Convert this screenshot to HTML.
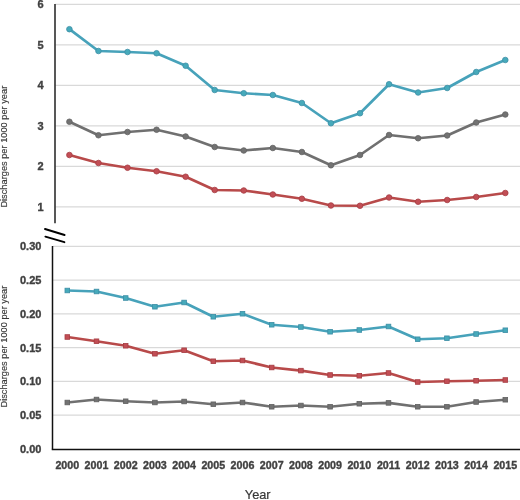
<!DOCTYPE html><html><head><meta charset="utf-8"><style>html,body{margin:0;padding:0;background:#fff;width:520px;height:500px;overflow:hidden}svg{display:block;will-change:transform}text{font-family:"Liberation Sans",sans-serif}</style></head><body>
<svg width="520" height="500" viewBox="0 0 520 500">
<line x1="55" y1="4.4" x2="520" y2="4.4" stroke="#D9D9D9" stroke-width="1.3"/>
<line x1="55" y1="44.9" x2="520" y2="44.9" stroke="#D9D9D9" stroke-width="1.3"/>
<line x1="55" y1="85.4" x2="520" y2="85.4" stroke="#D9D9D9" stroke-width="1.3"/>
<line x1="55" y1="125.9" x2="520" y2="125.9" stroke="#D9D9D9" stroke-width="1.3"/>
<line x1="55" y1="166.4" x2="520" y2="166.4" stroke="#D9D9D9" stroke-width="1.3"/>
<line x1="55" y1="206.9" x2="520" y2="206.9" stroke="#D9D9D9" stroke-width="1.3"/>
<line x1="53" y1="246.3" x2="520" y2="246.3" stroke="#D9D9D9" stroke-width="1.3"/>
<line x1="53" y1="280.08" x2="520" y2="280.08" stroke="#D9D9D9" stroke-width="1.3"/>
<line x1="53" y1="313.86" x2="520" y2="313.86" stroke="#D9D9D9" stroke-width="1.3"/>
<line x1="53" y1="347.64" x2="520" y2="347.64" stroke="#D9D9D9" stroke-width="1.3"/>
<line x1="53" y1="381.42" x2="520" y2="381.42" stroke="#D9D9D9" stroke-width="1.3"/>
<line x1="53" y1="415.2" x2="520" y2="415.2" stroke="#D9D9D9" stroke-width="1.3"/>
<line x1="55" y1="4" x2="55" y2="223.3" stroke="#3A3A3A" stroke-width="1.7"/>
<line x1="52.5" y1="246" x2="52.5" y2="449.4" stroke="#111" stroke-width="1.5"/>
<line x1="51.75" y1="449.4" x2="520" y2="449.4" stroke="#111" stroke-width="1.5"/>
<line x1="45" y1="229" x2="64.6" y2="235" stroke="#000" stroke-width="1.9" stroke-linecap="round"/>
<line x1="45.4" y1="236.6" x2="64.4" y2="242.2" stroke="#000" stroke-width="1.9" stroke-linecap="round"/>
<polyline points="69.4,29.2 98.46,51 127.52,52 156.58,53.25 185.64,65.75 214.7,90 243.76,93.25 272.82,95 301.88,103 330.94,123.25 360,113.25 389.06,84.25 418.12,92.5 447.18,88 476.24,72 505.3,60" fill="none" stroke="#47A2BA" stroke-width="2.7" stroke-linejoin="round"/>
<circle cx="69.4" cy="29.2" r="2.8000000000000003" fill="#46AABB" stroke="#3D8EA6" stroke-width="0.8"/>
<circle cx="98.46" cy="51" r="2.8000000000000003" fill="#46AABB" stroke="#3D8EA6" stroke-width="0.8"/>
<circle cx="127.52" cy="52" r="2.8000000000000003" fill="#46AABB" stroke="#3D8EA6" stroke-width="0.8"/>
<circle cx="156.58" cy="53.25" r="2.8000000000000003" fill="#46AABB" stroke="#3D8EA6" stroke-width="0.8"/>
<circle cx="185.64" cy="65.75" r="2.8000000000000003" fill="#46AABB" stroke="#3D8EA6" stroke-width="0.8"/>
<circle cx="214.7" cy="90" r="2.8000000000000003" fill="#46AABB" stroke="#3D8EA6" stroke-width="0.8"/>
<circle cx="243.76" cy="93.25" r="2.8000000000000003" fill="#46AABB" stroke="#3D8EA6" stroke-width="0.8"/>
<circle cx="272.82" cy="95" r="2.8000000000000003" fill="#46AABB" stroke="#3D8EA6" stroke-width="0.8"/>
<circle cx="301.88" cy="103" r="2.8000000000000003" fill="#46AABB" stroke="#3D8EA6" stroke-width="0.8"/>
<circle cx="330.94" cy="123.25" r="2.8000000000000003" fill="#46AABB" stroke="#3D8EA6" stroke-width="0.8"/>
<circle cx="360" cy="113.25" r="2.8000000000000003" fill="#46AABB" stroke="#3D8EA6" stroke-width="0.8"/>
<circle cx="389.06" cy="84.25" r="2.8000000000000003" fill="#46AABB" stroke="#3D8EA6" stroke-width="0.8"/>
<circle cx="418.12" cy="92.5" r="2.8000000000000003" fill="#46AABB" stroke="#3D8EA6" stroke-width="0.8"/>
<circle cx="447.18" cy="88" r="2.8000000000000003" fill="#46AABB" stroke="#3D8EA6" stroke-width="0.8"/>
<circle cx="476.24" cy="72" r="2.8000000000000003" fill="#46AABB" stroke="#3D8EA6" stroke-width="0.8"/>
<circle cx="505.3" cy="60" r="2.8000000000000003" fill="#46AABB" stroke="#3D8EA6" stroke-width="0.8"/>
<polyline points="69.4,121.75 98.46,135.25 127.52,132 156.58,129.75 185.64,136.5 214.7,147 243.76,150.5 272.82,148 301.88,152 330.94,165.3 360,155 389.06,135 418.12,138.25 447.18,135.5 476.24,122.5 505.3,114.5" fill="none" stroke="#707070" stroke-width="2.7" stroke-linejoin="round"/>
<circle cx="69.4" cy="121.75" r="2.8000000000000003" fill="#727272" stroke="#626262" stroke-width="0.8"/>
<circle cx="98.46" cy="135.25" r="2.8000000000000003" fill="#727272" stroke="#626262" stroke-width="0.8"/>
<circle cx="127.52" cy="132" r="2.8000000000000003" fill="#727272" stroke="#626262" stroke-width="0.8"/>
<circle cx="156.58" cy="129.75" r="2.8000000000000003" fill="#727272" stroke="#626262" stroke-width="0.8"/>
<circle cx="185.64" cy="136.5" r="2.8000000000000003" fill="#727272" stroke="#626262" stroke-width="0.8"/>
<circle cx="214.7" cy="147" r="2.8000000000000003" fill="#727272" stroke="#626262" stroke-width="0.8"/>
<circle cx="243.76" cy="150.5" r="2.8000000000000003" fill="#727272" stroke="#626262" stroke-width="0.8"/>
<circle cx="272.82" cy="148" r="2.8000000000000003" fill="#727272" stroke="#626262" stroke-width="0.8"/>
<circle cx="301.88" cy="152" r="2.8000000000000003" fill="#727272" stroke="#626262" stroke-width="0.8"/>
<circle cx="330.94" cy="165.3" r="2.8000000000000003" fill="#727272" stroke="#626262" stroke-width="0.8"/>
<circle cx="360" cy="155" r="2.8000000000000003" fill="#727272" stroke="#626262" stroke-width="0.8"/>
<circle cx="389.06" cy="135" r="2.8000000000000003" fill="#727272" stroke="#626262" stroke-width="0.8"/>
<circle cx="418.12" cy="138.25" r="2.8000000000000003" fill="#727272" stroke="#626262" stroke-width="0.8"/>
<circle cx="447.18" cy="135.5" r="2.8000000000000003" fill="#727272" stroke="#626262" stroke-width="0.8"/>
<circle cx="476.24" cy="122.5" r="2.8000000000000003" fill="#727272" stroke="#626262" stroke-width="0.8"/>
<circle cx="505.3" cy="114.5" r="2.8000000000000003" fill="#727272" stroke="#626262" stroke-width="0.8"/>
<polyline points="69.4,155 98.46,163 127.52,167.75 156.58,171.25 185.64,176.75 214.7,190 243.76,190.5 272.82,194.5 301.88,198.75 330.94,205.5 360,205.75 389.06,197.5 418.12,201.75 447.18,200 476.24,197 505.3,193" fill="none" stroke="#B84A4A" stroke-width="2.7" stroke-linejoin="round"/>
<circle cx="69.4" cy="155" r="2.8000000000000003" fill="#C24E55" stroke="#A63C42" stroke-width="0.8"/>
<circle cx="98.46" cy="163" r="2.8000000000000003" fill="#C24E55" stroke="#A63C42" stroke-width="0.8"/>
<circle cx="127.52" cy="167.75" r="2.8000000000000003" fill="#C24E55" stroke="#A63C42" stroke-width="0.8"/>
<circle cx="156.58" cy="171.25" r="2.8000000000000003" fill="#C24E55" stroke="#A63C42" stroke-width="0.8"/>
<circle cx="185.64" cy="176.75" r="2.8000000000000003" fill="#C24E55" stroke="#A63C42" stroke-width="0.8"/>
<circle cx="214.7" cy="190" r="2.8000000000000003" fill="#C24E55" stroke="#A63C42" stroke-width="0.8"/>
<circle cx="243.76" cy="190.5" r="2.8000000000000003" fill="#C24E55" stroke="#A63C42" stroke-width="0.8"/>
<circle cx="272.82" cy="194.5" r="2.8000000000000003" fill="#C24E55" stroke="#A63C42" stroke-width="0.8"/>
<circle cx="301.88" cy="198.75" r="2.8000000000000003" fill="#C24E55" stroke="#A63C42" stroke-width="0.8"/>
<circle cx="330.94" cy="205.5" r="2.8000000000000003" fill="#C24E55" stroke="#A63C42" stroke-width="0.8"/>
<circle cx="360" cy="205.75" r="2.8000000000000003" fill="#C24E55" stroke="#A63C42" stroke-width="0.8"/>
<circle cx="389.06" cy="197.5" r="2.8000000000000003" fill="#C24E55" stroke="#A63C42" stroke-width="0.8"/>
<circle cx="418.12" cy="201.75" r="2.8000000000000003" fill="#C24E55" stroke="#A63C42" stroke-width="0.8"/>
<circle cx="447.18" cy="200" r="2.8000000000000003" fill="#C24E55" stroke="#A63C42" stroke-width="0.8"/>
<circle cx="476.24" cy="197" r="2.8000000000000003" fill="#C24E55" stroke="#A63C42" stroke-width="0.8"/>
<circle cx="505.3" cy="193" r="2.8000000000000003" fill="#C24E55" stroke="#A63C42" stroke-width="0.8"/>
<polyline points="67.3,290.5 96.5,291.5 125.7,298 154.9,306.75 184.1,302.5 213.3,316.75 242.5,313.75 271.7,324.75 300.9,327 330.1,331.75 359.3,330 388.5,326.5 417.7,339.25 446.9,338.25 476.1,334 505.3,330.25" fill="none" stroke="#47A2BA" stroke-width="2.7" stroke-linejoin="round"/>
<rect x="65" y="288.2" width="4.6" height="4.6" fill="#46AABB" stroke="#3D8EA6" stroke-width="0.8"/>
<rect x="94.2" y="289.2" width="4.6" height="4.6" fill="#46AABB" stroke="#3D8EA6" stroke-width="0.8"/>
<rect x="123.4" y="295.7" width="4.6" height="4.6" fill="#46AABB" stroke="#3D8EA6" stroke-width="0.8"/>
<rect x="152.6" y="304.45" width="4.6" height="4.6" fill="#46AABB" stroke="#3D8EA6" stroke-width="0.8"/>
<rect x="181.8" y="300.2" width="4.6" height="4.6" fill="#46AABB" stroke="#3D8EA6" stroke-width="0.8"/>
<rect x="211" y="314.45" width="4.6" height="4.6" fill="#46AABB" stroke="#3D8EA6" stroke-width="0.8"/>
<rect x="240.2" y="311.45" width="4.6" height="4.6" fill="#46AABB" stroke="#3D8EA6" stroke-width="0.8"/>
<rect x="269.4" y="322.45" width="4.6" height="4.6" fill="#46AABB" stroke="#3D8EA6" stroke-width="0.8"/>
<rect x="298.6" y="324.7" width="4.6" height="4.6" fill="#46AABB" stroke="#3D8EA6" stroke-width="0.8"/>
<rect x="327.8" y="329.45" width="4.6" height="4.6" fill="#46AABB" stroke="#3D8EA6" stroke-width="0.8"/>
<rect x="357" y="327.7" width="4.6" height="4.6" fill="#46AABB" stroke="#3D8EA6" stroke-width="0.8"/>
<rect x="386.2" y="324.2" width="4.6" height="4.6" fill="#46AABB" stroke="#3D8EA6" stroke-width="0.8"/>
<rect x="415.4" y="336.95" width="4.6" height="4.6" fill="#46AABB" stroke="#3D8EA6" stroke-width="0.8"/>
<rect x="444.6" y="335.95" width="4.6" height="4.6" fill="#46AABB" stroke="#3D8EA6" stroke-width="0.8"/>
<rect x="473.8" y="331.7" width="4.6" height="4.6" fill="#46AABB" stroke="#3D8EA6" stroke-width="0.8"/>
<rect x="503" y="327.95" width="4.6" height="4.6" fill="#46AABB" stroke="#3D8EA6" stroke-width="0.8"/>
<polyline points="67.3,337 96.5,341.25 125.7,345.75 154.9,353.75 184.1,350.25 213.3,361.25 242.5,360.5 271.7,367.5 300.9,370.6 330.1,375 359.3,375.75 388.5,373 417.7,382 446.9,381.25 476.1,380.75 505.3,380" fill="none" stroke="#B84A4A" stroke-width="2.7" stroke-linejoin="round"/>
<rect x="65" y="334.7" width="4.6" height="4.6" fill="#C24E55" stroke="#A63C42" stroke-width="0.8"/>
<rect x="94.2" y="338.95" width="4.6" height="4.6" fill="#C24E55" stroke="#A63C42" stroke-width="0.8"/>
<rect x="123.4" y="343.45" width="4.6" height="4.6" fill="#C24E55" stroke="#A63C42" stroke-width="0.8"/>
<rect x="152.6" y="351.45" width="4.6" height="4.6" fill="#C24E55" stroke="#A63C42" stroke-width="0.8"/>
<rect x="181.8" y="347.95" width="4.6" height="4.6" fill="#C24E55" stroke="#A63C42" stroke-width="0.8"/>
<rect x="211" y="358.95" width="4.6" height="4.6" fill="#C24E55" stroke="#A63C42" stroke-width="0.8"/>
<rect x="240.2" y="358.2" width="4.6" height="4.6" fill="#C24E55" stroke="#A63C42" stroke-width="0.8"/>
<rect x="269.4" y="365.2" width="4.6" height="4.6" fill="#C24E55" stroke="#A63C42" stroke-width="0.8"/>
<rect x="298.6" y="368.3" width="4.6" height="4.6" fill="#C24E55" stroke="#A63C42" stroke-width="0.8"/>
<rect x="327.8" y="372.7" width="4.6" height="4.6" fill="#C24E55" stroke="#A63C42" stroke-width="0.8"/>
<rect x="357" y="373.45" width="4.6" height="4.6" fill="#C24E55" stroke="#A63C42" stroke-width="0.8"/>
<rect x="386.2" y="370.7" width="4.6" height="4.6" fill="#C24E55" stroke="#A63C42" stroke-width="0.8"/>
<rect x="415.4" y="379.7" width="4.6" height="4.6" fill="#C24E55" stroke="#A63C42" stroke-width="0.8"/>
<rect x="444.6" y="378.95" width="4.6" height="4.6" fill="#C24E55" stroke="#A63C42" stroke-width="0.8"/>
<rect x="473.8" y="378.45" width="4.6" height="4.6" fill="#C24E55" stroke="#A63C42" stroke-width="0.8"/>
<rect x="503" y="377.7" width="4.6" height="4.6" fill="#C24E55" stroke="#A63C42" stroke-width="0.8"/>
<polyline points="67.3,402.5 96.5,399.5 125.7,401.25 154.9,402.5 184.1,401.5 213.3,404.25 242.5,402.5 271.7,406.75 300.9,405.5 330.1,406.75 359.3,403.75 388.5,402.9 417.7,406.75 446.9,406.75 476.1,402 505.3,399.75" fill="none" stroke="#707070" stroke-width="2.7" stroke-linejoin="round"/>
<rect x="65" y="400.2" width="4.6" height="4.6" fill="#727272" stroke="#626262" stroke-width="0.8"/>
<rect x="94.2" y="397.2" width="4.6" height="4.6" fill="#727272" stroke="#626262" stroke-width="0.8"/>
<rect x="123.4" y="398.95" width="4.6" height="4.6" fill="#727272" stroke="#626262" stroke-width="0.8"/>
<rect x="152.6" y="400.2" width="4.6" height="4.6" fill="#727272" stroke="#626262" stroke-width="0.8"/>
<rect x="181.8" y="399.2" width="4.6" height="4.6" fill="#727272" stroke="#626262" stroke-width="0.8"/>
<rect x="211" y="401.95" width="4.6" height="4.6" fill="#727272" stroke="#626262" stroke-width="0.8"/>
<rect x="240.2" y="400.2" width="4.6" height="4.6" fill="#727272" stroke="#626262" stroke-width="0.8"/>
<rect x="269.4" y="404.45" width="4.6" height="4.6" fill="#727272" stroke="#626262" stroke-width="0.8"/>
<rect x="298.6" y="403.2" width="4.6" height="4.6" fill="#727272" stroke="#626262" stroke-width="0.8"/>
<rect x="327.8" y="404.45" width="4.6" height="4.6" fill="#727272" stroke="#626262" stroke-width="0.8"/>
<rect x="357" y="401.45" width="4.6" height="4.6" fill="#727272" stroke="#626262" stroke-width="0.8"/>
<rect x="386.2" y="400.6" width="4.6" height="4.6" fill="#727272" stroke="#626262" stroke-width="0.8"/>
<rect x="415.4" y="404.45" width="4.6" height="4.6" fill="#727272" stroke="#626262" stroke-width="0.8"/>
<rect x="444.6" y="404.45" width="4.6" height="4.6" fill="#727272" stroke="#626262" stroke-width="0.8"/>
<rect x="473.8" y="399.7" width="4.6" height="4.6" fill="#727272" stroke="#626262" stroke-width="0.8"/>
<rect x="503" y="397.45" width="4.6" height="4.6" fill="#727272" stroke="#626262" stroke-width="0.8"/>
<text x="43.6" y="8.3" text-anchor="end" font-size="11" font-weight="bold" fill="#404040" stroke="#404040" stroke-width="0.35">6</text>
<text x="43.6" y="48.8" text-anchor="end" font-size="11" font-weight="bold" fill="#404040" stroke="#404040" stroke-width="0.35">5</text>
<text x="43.6" y="89.3" text-anchor="end" font-size="11" font-weight="bold" fill="#404040" stroke="#404040" stroke-width="0.35">4</text>
<text x="43.6" y="129.8" text-anchor="end" font-size="11" font-weight="bold" fill="#404040" stroke="#404040" stroke-width="0.35">3</text>
<text x="43.6" y="170.3" text-anchor="end" font-size="11" font-weight="bold" fill="#404040" stroke="#404040" stroke-width="0.35">2</text>
<text x="43.6" y="210.8" text-anchor="end" font-size="11" font-weight="bold" fill="#404040" stroke="#404040" stroke-width="0.35">1</text>
<text x="41.4" y="250.2" text-anchor="end" font-size="11" font-weight="bold" fill="#404040" stroke="#404040" stroke-width="0.35">0.30</text>
<text x="41.4" y="283.98" text-anchor="end" font-size="11" font-weight="bold" fill="#404040" stroke="#404040" stroke-width="0.35">0.25</text>
<text x="41.4" y="317.76" text-anchor="end" font-size="11" font-weight="bold" fill="#404040" stroke="#404040" stroke-width="0.35">0.20</text>
<text x="41.4" y="351.54" text-anchor="end" font-size="11" font-weight="bold" fill="#404040" stroke="#404040" stroke-width="0.35">0.15</text>
<text x="41.4" y="385.32" text-anchor="end" font-size="11" font-weight="bold" fill="#404040" stroke="#404040" stroke-width="0.35">0.10</text>
<text x="41.4" y="419.1" text-anchor="end" font-size="11" font-weight="bold" fill="#404040" stroke="#404040" stroke-width="0.35">0.05</text>
<text x="41.4" y="452.88" text-anchor="end" font-size="11" font-weight="bold" fill="#404040" stroke="#404040" stroke-width="0.35">0.00</text>
<text x="67.3" y="468.8" text-anchor="middle" font-size="10.7" font-weight="bold" fill="#404040" stroke="#404040" stroke-width="0.35">2000</text>
<text x="96.5" y="468.8" text-anchor="middle" font-size="10.7" font-weight="bold" fill="#404040" stroke="#404040" stroke-width="0.35">2001</text>
<text x="125.7" y="468.8" text-anchor="middle" font-size="10.7" font-weight="bold" fill="#404040" stroke="#404040" stroke-width="0.35">2002</text>
<text x="154.9" y="468.8" text-anchor="middle" font-size="10.7" font-weight="bold" fill="#404040" stroke="#404040" stroke-width="0.35">2003</text>
<text x="184.1" y="468.8" text-anchor="middle" font-size="10.7" font-weight="bold" fill="#404040" stroke="#404040" stroke-width="0.35">2004</text>
<text x="213.3" y="468.8" text-anchor="middle" font-size="10.7" font-weight="bold" fill="#404040" stroke="#404040" stroke-width="0.35">2005</text>
<text x="242.5" y="468.8" text-anchor="middle" font-size="10.7" font-weight="bold" fill="#404040" stroke="#404040" stroke-width="0.35">2006</text>
<text x="271.7" y="468.8" text-anchor="middle" font-size="10.7" font-weight="bold" fill="#404040" stroke="#404040" stroke-width="0.35">2007</text>
<text x="300.9" y="468.8" text-anchor="middle" font-size="10.7" font-weight="bold" fill="#404040" stroke="#404040" stroke-width="0.35">2008</text>
<text x="330.1" y="468.8" text-anchor="middle" font-size="10.7" font-weight="bold" fill="#404040" stroke="#404040" stroke-width="0.35">2009</text>
<text x="359.3" y="468.8" text-anchor="middle" font-size="10.7" font-weight="bold" fill="#404040" stroke="#404040" stroke-width="0.35">2010</text>
<text x="388.5" y="468.8" text-anchor="middle" font-size="10.7" font-weight="bold" fill="#404040" stroke="#404040" stroke-width="0.35">2011</text>
<text x="417.7" y="468.8" text-anchor="middle" font-size="10.7" font-weight="bold" fill="#404040" stroke="#404040" stroke-width="0.35">2012</text>
<text x="446.9" y="468.8" text-anchor="middle" font-size="10.7" font-weight="bold" fill="#404040" stroke="#404040" stroke-width="0.35">2013</text>
<text x="476.1" y="468.8" text-anchor="middle" font-size="10.7" font-weight="bold" fill="#404040" stroke="#404040" stroke-width="0.35">2014</text>
<text x="505.3" y="468.8" text-anchor="middle" font-size="10.7" font-weight="bold" fill="#404040" stroke="#404040" stroke-width="0.35">2015</text>
<text transform="translate(6.6,146.7) rotate(-90)" text-anchor="middle" font-size="9.25" fill="#383838" stroke="#383838" stroke-width="0.15">Discharges per 1000 per year</text>
<text transform="translate(6.9,346.6) rotate(-90)" text-anchor="middle" font-size="9.25" fill="#383838" stroke="#383838" stroke-width="0.15">Discharges per 1000 per year</text>
<text x="257.7" y="499.2" text-anchor="middle" font-size="12.8" fill="#383838" stroke="#383838" stroke-width="0.2">Year</text>
</svg></body></html>
